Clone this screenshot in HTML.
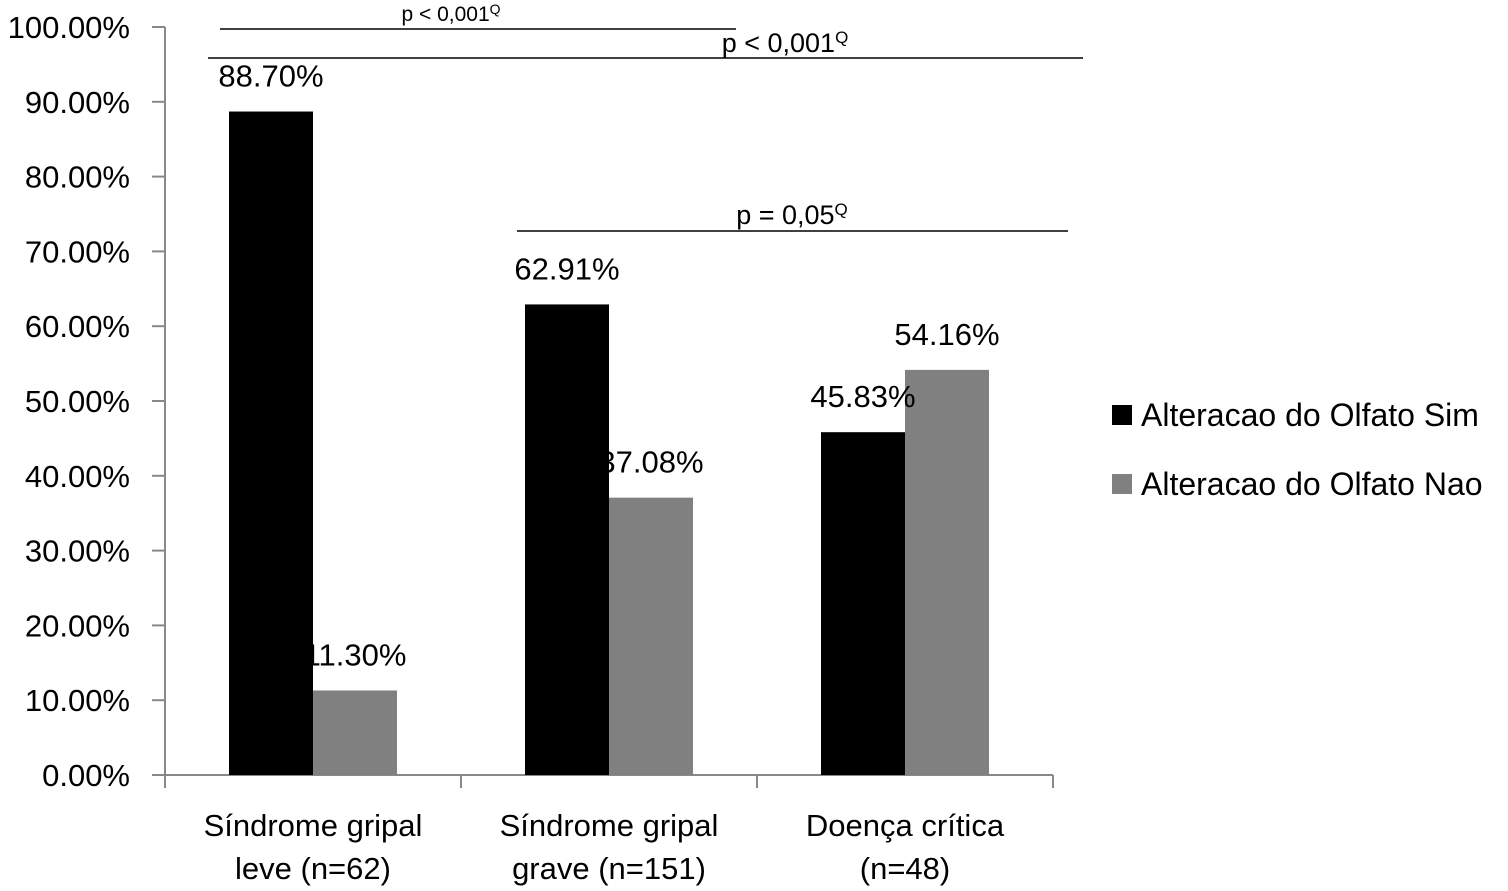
<!DOCTYPE html>
<html><head><meta charset="utf-8"><style>
body{margin:0;background:#fff}
svg{display:block;font-family:"Liberation Sans",sans-serif}
</style></head><body>
<svg id="chart" width="1508" height="891" viewBox="0 0 1508 891" xmlns="http://www.w3.org/2000/svg">
<g id="axes"></g><g id="bars"></g><g id="labels"></g>
<g fill="#000">
<line x1="220" y1="29" x2="736" y2="29" stroke="#000" stroke-width="1.5"/>
<text x="451" y="21" font-size="21" text-anchor="middle">p &lt; 0,001<tspan font-size="14" dy="-7">Q</tspan></text>
<line x1="208" y1="58" x2="1083" y2="58" stroke="#000" stroke-width="1.5"/>
<text x="785" y="52" font-size="27" text-anchor="middle">p &lt; 0,001<tspan font-size="17" dy="-9">Q</tspan></text>
<line x1="517" y1="231" x2="1068" y2="231" stroke="#000" stroke-width="1.5"/>
<text x="792" y="224" font-size="27" text-anchor="middle">p = 0,05<tspan font-size="17" dy="-9">Q</tspan></text>
</g>
<g font-size="32">
<rect x="1112" y="405" width="20" height="20" fill="#000"/>
<text x="1141" y="426">Alteracao do Olfato Sim</text>
<rect x="1112" y="474" width="20" height="20" fill="#808080"/>
<text x="1141" y="495">Alteracao do Olfato Nao</text>
</g>
</svg>
<script>
const categoriesLine1 = ["Síndrome gripal", "Síndrome gripal", "Doença crítica"];
const categoriesLine2 = ["leve (n=62)", "grave (n=151)", "(n=48)"];
const simValues = [88.70, 62.91, 45.83];
const naoValues = [11.30, 37.08, 54.16];
const simLabels = ["88.70%", "62.91%", "45.83%"];
const naoLabels = ["11.30%", "37.08%", "54.16%"];
const yTicks = [0,10,20,30,40,50,60,70,80,90,100];

const NS="http://www.w3.org/2000/svg";
const x0=165, x1=1053, yBase=775, yTop=27;
const catW=(x1-x0)/categoriesLine1.length;
const y=v=>yBase-(v/100)*(yBase-yTop);
const cx=i=>x0+catW*(i+0.5);
function mk(tag,attrs,parent){const e=document.createElementNS(NS,tag);for(const k in attrs)e.setAttribute(k,attrs[k]);parent.appendChild(e);return e;}
const axes=document.getElementById('axes'),bars=document.getElementById('bars'),labels=document.getElementById('labels');

let ya=mk('line',{x1:x0,y1:yTop,x2:x0,y2:yBase,stroke:'#888','stroke-width':2},axes);


let xa=mk('line',{x1:152,y1:yBase,x2:x1,y2:yBase,stroke:'#888','stroke-width':2},axes);


yTicks.forEach(t=>{
  let tk=mk('line',{x1:152,y1:y(t),x2:x0,y2:y(t),stroke:'#888','stroke-width':2},axes);
  
  
  let tx=mk('text',{x:130,y:y(t)+11,'font-size':31,'text-anchor':'end'},axes);
  tx.textContent=t.toFixed(2)+'%';
  
  
});
for(let i=0;i<=categoriesLine1.length;i++){
  let tk=mk('line',{x1:x0+catW*i,y1:yBase,x2:x0+catW*i,y2:yBase+13,stroke:'#888','stroke-width':2},axes);
  
  
}
categoriesLine1.forEach((c,i)=>{
  let t=mk('text',{x:cx(i),y:836,'font-size':31,'text-anchor':'middle'},labels);
  t.textContent=c;
  
  
  let t2=mk('text',{x:cx(i),y:879,'font-size':31,'text-anchor':'middle'},labels);
  t2.textContent=categoriesLine2[i];
  
  
});
const bw=84;
simValues.forEach((v,i)=>{
  let b=mk('rect',{x:cx(i)-bw,y:y(v),width:bw,height:yBase-y(v),fill:'#000'},bars);
  
  
  let t=mk('text',{x:cx(i)-bw/2,y:y(v)-25,'font-size':31,'text-anchor':'middle'},labels);
  t.textContent=simLabels[i];
  
  
});
naoValues.forEach((v,i)=>{
  let b=mk('rect',{x:cx(i),y:y(v),width:bw,height:yBase-y(v),fill:'#808080'},bars);
  
  
  let t=mk('text',{x:cx(i)+bw/2,y:y(v)-25,'font-size':31,'text-anchor':'middle'},labels);
  t.textContent=naoLabels[i];
  
  
});
</script>
</body></html>
